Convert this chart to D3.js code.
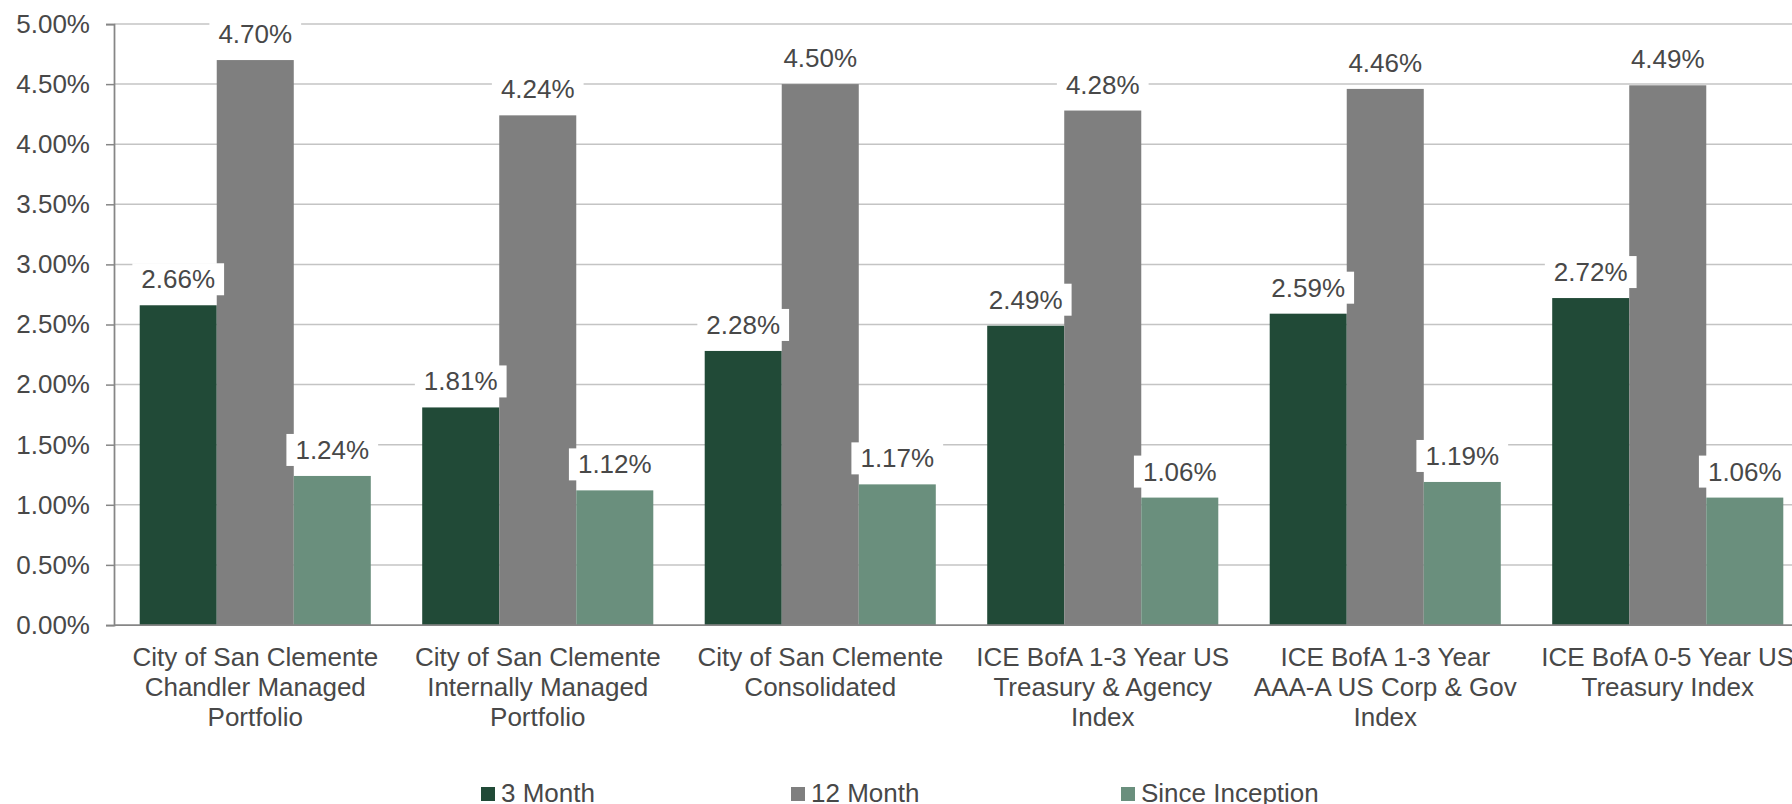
<!DOCTYPE html>
<html>
<head>
<meta charset="utf-8">
<script src="https://cdn.jsdelivr.net/npm/d3@7"></script>
<style>
  body { margin: 0; background: #fff; }
  text { font-family: "Liberation Sans", Arial, sans-serif; fill: #484848; }
</style>
</head>
<body>
<script>
// data
var categories = [
  ["City of San Clemente", "Chandler Managed", "Portfolio"],
  ["City of San Clemente", "Internally Managed", "Portfolio"],
  ["City of San Clemente", "Consolidated"],
  ["ICE BofA 1-3 Year US", "Treasury & Agency", "Index"],
  ["ICE BofA 1-3 Year", "AAA-A US Corp & Gov", "Index"],
  ["ICE BofA 0-5 Year US", "Treasury Index"]
];
var seriesNames = ["3 Month", "12 Month", "Since Inception"];
var threeMonth = [2.66, 1.81, 2.28, 2.49, 2.59, 2.72];
var twelveMonth = [4.70, 4.24, 4.50, 4.28, 4.46, 4.49];
var sinceInception = [1.24, 1.12, 1.17, 1.06, 1.19, 1.06];
var yTicks = [0, 0.5, 1, 1.5, 2, 2.5, 3, 3.5, 4, 4.5, 5];

var colors = ["#214A37", "#7F7F7F", "#6A8F7D"];
var series = [threeMonth, twelveMonth, sinceInception];

var W = 1792, H = 804;
var plotLeft = 114, plotTop = 24, plotBottom = 625;
var step = 282.5;
var textColor = "#484848";

var svg = d3.select("body").append("svg")
    .attr("width", W)
    .attr("height", H);

var x0 = d3.scaleBand()
    .domain(d3.range(categories.length))
    .range([plotLeft, plotLeft + step * categories.length])
    .paddingInner(0.182)
    .paddingOuter(0.091);

var x1 = d3.scaleBand()
    .domain(d3.range(series.length))
    .range([0, x0.bandwidth()]);

var y = d3.scaleLinear().domain([0, 5]).range([plotBottom, plotTop]);

// gridlines
svg.append("g").selectAll("line")
  .data(yTicks.filter(d => d > 0))
  .join("line")
    .attr("x1", plotLeft).attr("x2", W)
    .attr("y1", d => y(d)).attr("y2", d => y(d))
    .attr("stroke", "#c4c4c4")
    .attr("stroke-width", 1.5);

// y axis
var yAxis = svg.append("g")
    .attr("transform", "translate(" + plotLeft + ",0)")
    .call(d3.axisLeft(y).tickValues(yTicks).tickSize(8).tickPadding(16)
      .tickFormat(d => d3.format(".2f")(d) + "%"));
yAxis.select(".domain").attr("stroke", "#868686").attr("stroke-width", 1.75);
yAxis.selectAll(".tick line").attr("stroke", "#868686").attr("stroke-width", 1.5);
yAxis.selectAll(".tick text").attr("font-size", 26).attr("fill", textColor)
    .attr("font-family", "Liberation Sans, Arial, sans-serif");

// bars
var groups = svg.append("g").selectAll("g")
  .data(categories)
  .join("g")
    .attr("transform", (d, i) => "translate(" + x0(i) + ",0)");

groups.selectAll("rect")
  .data((d, i) => series.map((s, j) => ({ s: j, v: s[i] })))
  .join("rect")
    .attr("x", d => x1(d.s))
    .attr("width", x1.bandwidth())
    .attr("y", d => y(d.v))
    .attr("height", d => y(0) - y(d.v))
    .attr("fill", d => colors[d.s]);

// x axis line
svg.append("line")
    .attr("x1", plotLeft).attr("x2", W)
    .attr("y1", plotBottom).attr("y2", plotBottom)
    .attr("stroke", "#868686").attr("stroke-width", 1.75);

// data labels with white boxes
var labels = groups.selectAll("g.lab")
  .data((d, i) => series.map((s, j) => ({ s: j, v: s[i] })))
  .join("g")
    .attr("class", "lab")
    .attr("transform", d => "translate(" + (x1(d.s) + x1.bandwidth() / 2) + "," + (y(d.v) - 17) + ")");

labels.append("rect").attr("fill", "#fff");
labels.append("text")
    .attr("text-anchor", "middle")
    .attr("font-size", 26)
    .text(d => d3.format(".2f")(d.v) + "%");
labels.each(function() {
  var g = d3.select(this);
  var w = g.select("text").node().getComputedTextLength();
  g.select("rect")
    .attr("x", -w / 2 - 9).attr("width", w + 18)
    .attr("y", -25).attr("height", 32);
});

// category labels
svg.append("g").selectAll("text")
  .data(categories)
  .join("text")
    .attr("text-anchor", "middle")
    .attr("font-size", 26)
    .attr("transform", (d, i) => "translate(" + (x0(i) + x0.bandwidth() / 2) + "," + (plotBottom + 41) + ")")
  .selectAll("tspan")
  .data(d => d)
  .join("tspan")
    .attr("x", 0)
    .attr("y", (d, i) => i * 30)
    .text(d => d);

// legend
var legendX = [481, 791, 1121];
var legend = svg.append("g").selectAll("g")
  .data(seriesNames)
  .join("g")
    .attr("transform", (d, i) => "translate(" + legendX[i] + ",787)");
legend.append("rect")
    .attr("width", 14).attr("height", 14)
    .attr("fill", (d, i) => colors[i]);
legend.append("text")
    .attr("x", 20).attr("y", 15)
    .attr("font-size", 26)
    .text(d => d);
</script>
</body>
</html>
